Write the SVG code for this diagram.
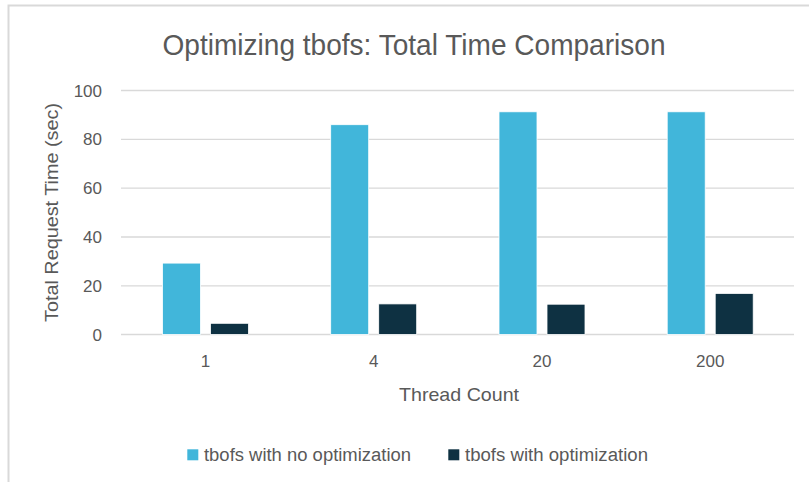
<svg xmlns="http://www.w3.org/2000/svg" width="809" height="482" viewBox="0 0 809 482">
<style>
.t{font-family:"Liberation Sans",Arial,sans-serif;fill:#595959}
.grid{stroke:#d9d9d9;stroke-width:1.3}
.c1{fill:#41b6da;stroke:#ffffff;stroke-width:0.8}
.c2{fill:#0e3142;stroke:#ffffff;stroke-width:0.8}
.tick{font-size:17px;text-anchor:end}
.cat{font-size:17px;text-anchor:middle}
</style>
<rect x="0" y="0" width="809" height="482" fill="#ffffff"/>
<path d="M8.5 482 V5.5 H809" fill="none" stroke="#d9d9d9" stroke-width="2"/>
<text id="title" class="t" x="414" y="55" font-size="30" text-anchor="middle" textLength="503" lengthAdjust="spacingAndGlyphs">Optimizing tbofs: Total Time Comparison</text>
<g id="gridlines">
<line class="grid" x1="121" y1="90.5" x2="794" y2="90.5"/>
<line class="grid" x1="121" y1="139.3" x2="794" y2="139.3"/>
<line class="grid" x1="121" y1="188.2" x2="794" y2="188.2"/>
<line class="grid" x1="121" y1="237" x2="794" y2="237"/>
<line class="grid" x1="121" y1="285.8" x2="794" y2="285.8"/>
<line class="grid" x1="121" y1="334.5" x2="794" y2="334.5"/>
</g>
<g id="yticks" class="t">
<text class="tick" x="102" y="96.5">100</text>
<text class="tick" x="102" y="145.3">80</text>
<text class="tick" x="102" y="194.2">60</text>
<text class="tick" x="102" y="243">40</text>
<text class="tick" x="102" y="291.8">20</text>
<text class="tick" x="102" y="340.5">0</text>
</g>
<text id="ytitle" class="t" font-size="19" text-anchor="middle" transform="translate(58 212.5) rotate(-90)" textLength="219" lengthAdjust="spacingAndGlyphs">Total Request Time (sec)</text>
<g id="bars">
<g id="g1">
<rect class="c1" x="162.5" y="263.1" width="38" height="71.4"/>
<rect class="c2" x="210.5" y="323.3" width="38" height="11.2"/>
</g>
<g id="g4">
<rect class="c1" x="330.7" y="124.7" width="38" height="209.8"/>
<rect class="c2" x="378.7" y="303.9" width="38" height="30.6"/>
</g>
<g id="g20">
<rect class="c1" x="499" y="111.8" width="38" height="222.7"/>
<rect class="c2" x="547" y="304.2" width="38" height="30.3"/>
</g>
<g id="g200">
<rect class="c1" x="667.2" y="111.8" width="38" height="222.7"/>
<rect class="c2" x="715.2" y="293.4" width="38" height="41.1"/>
</g>
</g>
<g id="xticks" class="t">
<text class="cat" x="205.5" y="367">1</text>
<text class="cat" x="373.7" y="367">4</text>
<text class="cat" x="542" y="367">20</text>
<text class="cat" x="710.2" y="367">200</text>
</g>
<text id="xtitle" class="t" x="459" y="401" font-size="19" text-anchor="middle" textLength="120" lengthAdjust="spacingAndGlyphs">Thread Count</text>
<g id="legend">
<g id="leg1">
<rect x="187.3" y="449.3" width="11" height="11" fill="#41b6da"/>
<text class="t" x="204" y="460.5" font-size="18" textLength="207" lengthAdjust="spacingAndGlyphs">tbofs with no optimization</text>
</g>
<g id="leg2">
<rect x="448.3" y="449.3" width="11" height="11" fill="#0e3142"/>
<text class="t" x="465" y="460.5" font-size="18" textLength="183" lengthAdjust="spacingAndGlyphs">tbofs with optimization</text>
</g>
</g>
</svg>
